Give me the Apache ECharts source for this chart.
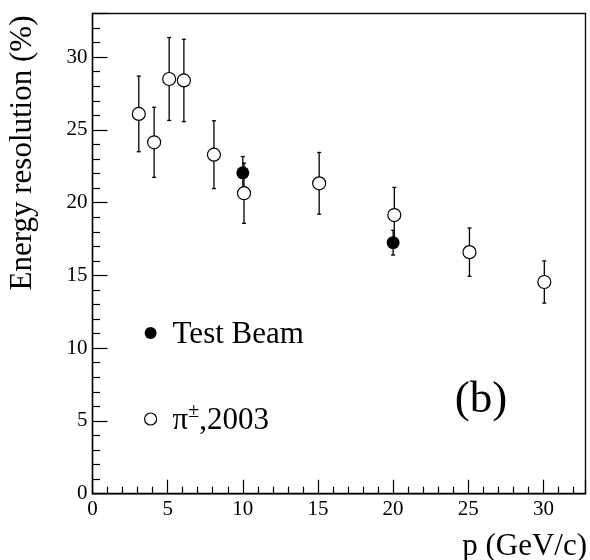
<!DOCTYPE html>
<html>
<head>
<meta charset="utf-8">
<script src="https://cdn.jsdelivr.net/npm/echarts@6/dist/echarts.min.js"></script>
<style>
html,body{margin:0;padding:0;background:#fff;}
#chart{width:590px;height:560px;}
</style>
</head>
<body>
<div id="chart"></div>
<script>
// pi+-, 2003 (open circles)
var pionP   = [3.08, 4.1, 5.1, 6.08, 8.08, 10.08, 15.08, 20.08, 25.08, 30.06];
var pionRes = [26.1, 24.15, 28.5, 28.4, 23.3, 20.65, 21.33, 19.15, 16.6, 14.55];
var pionErr = [2.6, 2.41, 2.85, 2.83, 2.33, 2.07, 2.12, 1.9, 1.66, 1.45];
// Test Beam (filled circles)
var tbP   = [10, 20];
var tbRes = [22.05, 17.25];
var tbErr = [1.12, 0.85];

var serif = 'Liberation Serif';
var chart = echarts.init(document.getElementById('chart'), null, {renderer: 'canvas'});

function errSeries(xs, ys, es, z) {
  return {
    type: 'custom',
    silent: true,
    z: z,
    data: xs.map(function (x, i) { return [x, ys[i] - es[i], ys[i] + es[i]]; }),
    encode: {x: 0, y: [1, 2]},
    renderItem: function (params, api) {
      var lo = api.coord([api.value(0), api.value(1)]);
      var hi = api.coord([api.value(0), api.value(2)]);
      var cw = 2;
      var st = {stroke: '#000', lineWidth: 1.3};
      return {
        type: 'group',
        children: [
          {type: 'line', shape: {x1: lo[0], y1: lo[1], x2: hi[0], y2: hi[1]}, style: st},
          {type: 'line', shape: {x1: lo[0] - cw, y1: lo[1], x2: lo[0] + cw, y2: lo[1]}, style: st},
          {type: 'line', shape: {x1: hi[0] - cw, y1: hi[1], x2: hi[0] + cw, y2: hi[1]}, style: st}
        ]
      };
    }
  };
}

function axisCommon(tickLen, minorLen) {
  return {
    type: 'value',
    interval: 5,
    min: 0,
    splitLine: {show: false},
    axisLine: {show: true, onZero: false, lineStyle: {color: '#000', width: 1.3}},
    axisTick: {show: true, inside: true, length: tickLen, lineStyle: {color: '#000', width: 1.2}},
    minorTick: {show: true, splitNumber: 5, length: minorLen, lineStyle: {color: '#000', width: 1.2}},
    minorSplitLine: {show: false},
    axisLabel: {color: '#000', fontFamily: serif, fontSize: 21, margin: 5, showMaxLabel: false}
  };
}

var xAx = axisCommon(14, 7); xAx.max = 32.8;
var yAx = axisCommon(15, 7.5); yAx.max = 33;

chart.setOption({
  animation: false,
  backgroundColor: '#fff',
  grid: {left: 92.5, right: 4.5, top: 13.5, bottom: 66.3, show: true, borderColor: '#111', borderWidth: 1.4, backgroundColor: 'transparent'},
  xAxis: xAx,
  yAxis: yAx,
  legend: {
    orient: 'vertical',
    left: 144,
    top: 319,
    padding: 0,
    itemGap: 52,
    itemWidth: 12,
    itemHeight: 12,
    selectedMode: false,
    data: [
      {name: 'Test Beam', icon: 'circle', itemStyle: {color: '#000', borderWidth: 0}},
      {name: 'π±,2003', icon: 'circle', itemStyle: {color: '#fff', borderColor: '#000', borderWidth: 1.2}}
    ],
    formatter: function (name) {
      if (name === 'Test Beam') return '{m|Test Beam}';
      return '{m|π}{s|±}{m|,2003}';
    },
    textStyle: {
      padding: [0, 0, 0, 11],
      rich: {
        m: {fontFamily: serif, fontSize: 31, color: '#000', lineHeight: 34, verticalAlign: 'bottom'},
        s: {fontFamily: serif, fontSize: 20, color: '#000', lineHeight: 24, verticalAlign: 'top'}
      }
    }
  },
  graphic: [
    {type: 'text', x: 23, y: 153, rotation: Math.PI / 2, silent: true,
     style: {text: 'Energy resolution (%)', fontFamily: serif, fontSize: 31, fill: '#000', align: 'center', verticalAlign: 'middle'}},
    {type: 'text', x: 587, y: 547, silent: true,
     style: {text: 'p (GeV/c)', fontFamily: serif, fontSize: 31, fill: '#000', align: 'right', verticalAlign: 'middle'}},
    {type: 'text', x: 481, y: 400, silent: true,
     style: {text: '(b)', fontFamily: serif, fontSize: 45, fill: '#000', align: 'center', verticalAlign: 'middle'}}
  ],
  series: [
    errSeries(pionP, pionRes, pionErr, 2),
    errSeries(tbP, tbRes, tbErr, 3),
    {
      name: 'π±,2003', type: 'scatter', z: 4, symbol: 'circle', symbolSize: 13,
      itemStyle: {color: '#fff', borderColor: '#000', borderWidth: 1.2, opacity: 1},
      data: pionP.map(function (x, i) { return [x, pionRes[i]]; })
    },
    {
      name: 'Test Beam', type: 'scatter', z: 5, symbol: 'circle', symbolSize: 13,
      itemStyle: {color: '#000', opacity: 1},
      data: tbP.map(function (x, i) { return [x, tbRes[i]]; })
    }
  ]
});
</script>
</body>
</html>
